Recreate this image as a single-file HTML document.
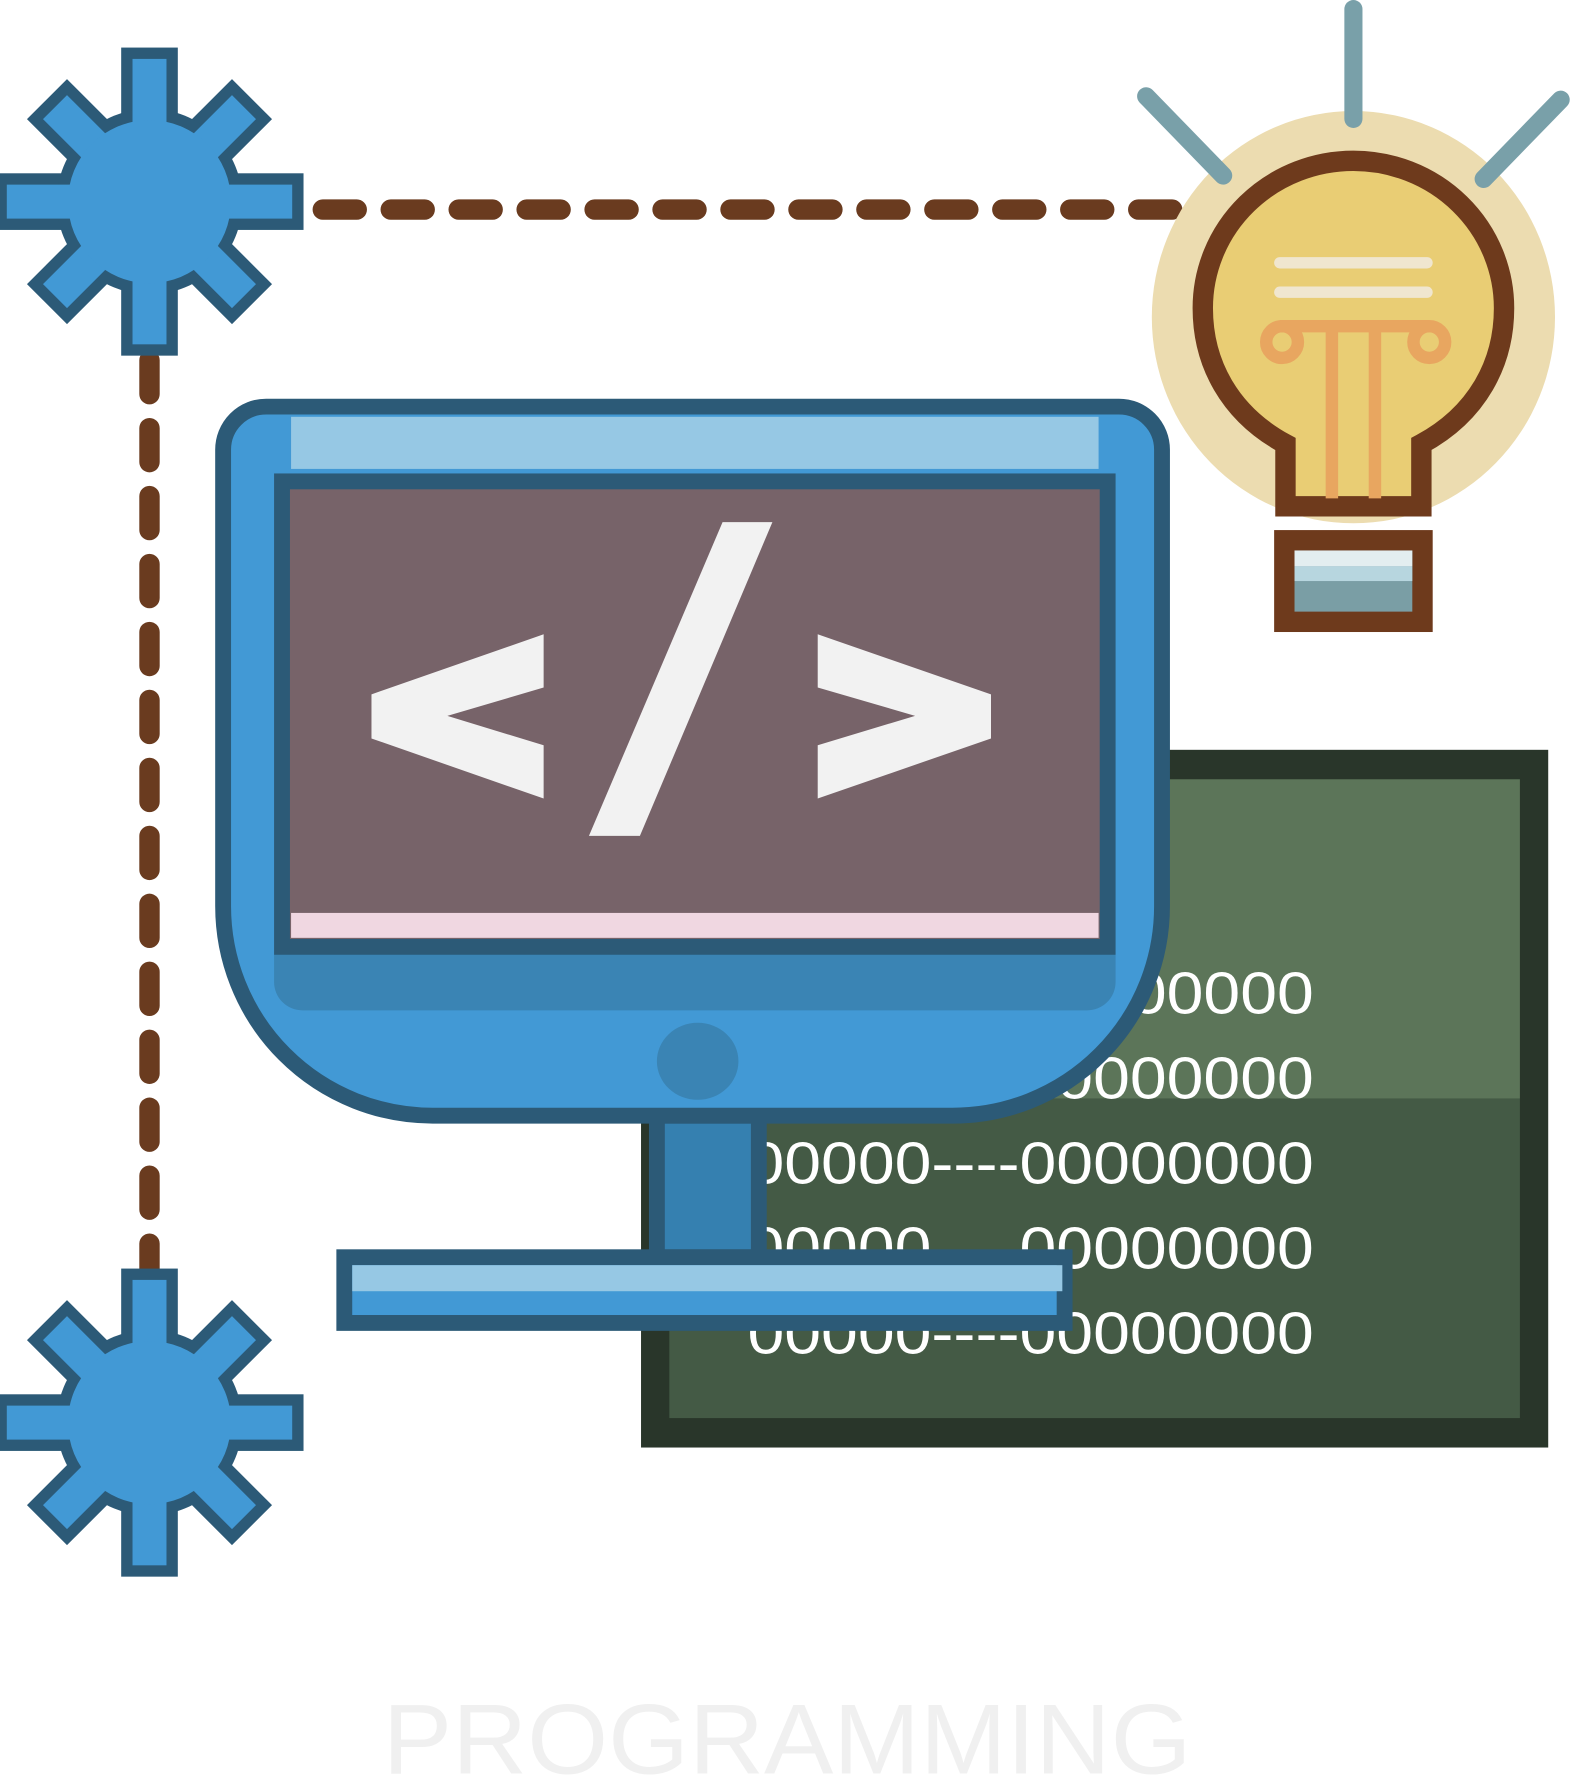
<!DOCTYPE html>
<html><head><meta charset="utf-8"><style>html,body{margin:0;padding:0;background:#fff}svg{display:block}</style></head>
<body>
<svg width="1572" height="1776" viewBox="0 0 1388 1568" preserveAspectRatio="none" xmlns="http://www.w3.org/2000/svg">
<defs>
<g id="gear">
  <g fill="#2c5a77">
    <rect x="-25" y="-136" width="50" height="272"/>
    <rect x="-136" y="-25" width="272" height="50"/>
    <rect x="-25" y="-128" width="50" height="256" transform="rotate(45)"/>
    <rect x="-25" y="-128" width="50" height="256" transform="rotate(-45)"/>
    <circle r="82"/>
  </g>
  <g fill="#4299d5">
    <rect x="-15" y="-126" width="30" height="252"/>
    <rect x="-126" y="-15" width="252" height="30"/>
    <rect x="-15" y="-118" width="30" height="236" transform="rotate(45)"/>
    <rect x="-15" y="-118" width="30" height="236" transform="rotate(-45)"/>
    <circle r="72"/>
  </g>
</g>
</defs>

<!-- dashed connectors -->
<g stroke="#6a3b1f" stroke-width="18" stroke-linecap="round" stroke-dasharray="30 30" fill="none">
  <line x1="285" y1="185" x2="1045" y2="185"/>
  <line x1="132" y1="318" x2="132" y2="1125"/>
</g>

<use href="#gear" x="132" y="178"/>
<use href="#gear" x="132" y="1256"/>

<!-- bulb -->
<ellipse cx="1195" cy="280" rx="178" ry="182" fill="#ecdcb0"/>
<g stroke="#79a0a9" stroke-width="16" stroke-linecap="round">
  <line x1="1195" y1="8" x2="1195" y2="105"/>
  <line x1="1012" y1="85" x2="1080" y2="155"/>
  <line x1="1378" y1="88" x2="1310" y2="158"/>
</g>
<path d="M1135,392 C1085,365 1062,320 1062,272 A133 130 0 0 1 1328,272 C1328,320 1305,365 1255,392 L1255,447 L1135,447 Z" fill="#e9cd74" stroke="#6e3a1c" stroke-width="18"/>
<g stroke="#f0e6cf" stroke-width="10" stroke-linecap="round">
  <line x1="1130" y1="232" x2="1260" y2="232"/>
  <line x1="1130" y1="258" x2="1260" y2="258"/>
</g>
<g stroke="#e8a660" stroke-width="11" fill="none">
  <line x1="1130" y1="288" x2="1262" y2="288"/>
  <circle cx="1132" cy="302" r="14"/>
  <circle cx="1262" cy="302" r="14"/>
  <line x1="1176" y1="290" x2="1176" y2="440"/>
  <line x1="1214" y1="290" x2="1214" y2="440"/>
</g>
<rect x="1134" y="477" width="122" height="72" fill="#7a9ea5" stroke="#6e3a1c" stroke-width="18"/>
<rect x="1143" y="486" width="104" height="14" fill="#e3eef0"/>
<rect x="1143" y="500" width="104" height="13" fill="#b7d6df"/>

<!-- code panel -->
<rect x="566" y="662" width="801" height="616" fill="#29362a"/>
<rect x="591" y="688" width="751" height="282" fill="#5c7559"/>
<rect x="591" y="970" width="751" height="282" fill="#445a45"/>
<g fill="#ffffff" font-family="'Liberation Sans', sans-serif" font-size="52" text-anchor="end">
  <text x="1160" y="895" textLength="500" lengthAdjust="spacingAndGlyphs">00000----00000000</text>
  <text x="1160" y="970" textLength="500" lengthAdjust="spacingAndGlyphs">00000----00000000</text>
  <text x="1160" y="1045" textLength="500" lengthAdjust="spacingAndGlyphs">00000----00000000</text>
  <text x="1160" y="1120" textLength="500" lengthAdjust="spacingAndGlyphs">00000----00000000</text>
  <text x="1160" y="1195" textLength="500" lengthAdjust="spacingAndGlyphs">00000----00000000</text>
</g>

<!-- monitor -->
<rect x="580" y="985" width="90" height="125" fill="#3580b0" stroke="#2c5a77" stroke-width="14"/>
<path d="M235,359 L988,359 A38 38 0 0 1 1026,397 L1026,800 A185 185 0 0 1 841,985 L382,985 A185 185 0 0 1 197,800 L197,397 A38 38 0 0 1 235,359 Z" fill="#4299d5" stroke="#2c5a77" stroke-width="14"/>
<rect x="257" y="368" width="713" height="46" fill="#96c8e4"/>
<path d="M242,843 L985,843 L985,867 A25 25 0 0 1 960,892 L267,892 A25 25 0 0 1 242,867 Z" fill="#3a84b4"/>
<rect x="249" y="425" width="729" height="411" fill="#776369" stroke="#2c5a77" stroke-width="14"/>
<rect x="257" y="806" width="713" height="22" fill="#f0d7e1"/>
<ellipse cx="616" cy="937" rx="36" ry="34" fill="#3a84b4"/>
<g fill="#f2f2f2">
  <polygon points="480,560 480,607 395,632 480,658 480,705 328,652 328,613"/>
  <polygon points="638,461 682,461 565,738 520,738"/>
  <polygon points="722,560 875,613 875,652 722,705 722,658 808,632 722,607"/>
</g>
<rect x="304" y="1110" width="636" height="58" fill="#4299d5" stroke="#2c5a77" stroke-width="14"/>
<rect x="311" y="1117" width="627" height="23" fill="#96c8e4"/>

<text x="338" y="1566" font-family="'Liberation Sans', sans-serif" font-size="88" fill="#f0f0f0" textLength="714" lengthAdjust="spacingAndGlyphs">PROGRAMMING</text>
</svg>
</body></html>
